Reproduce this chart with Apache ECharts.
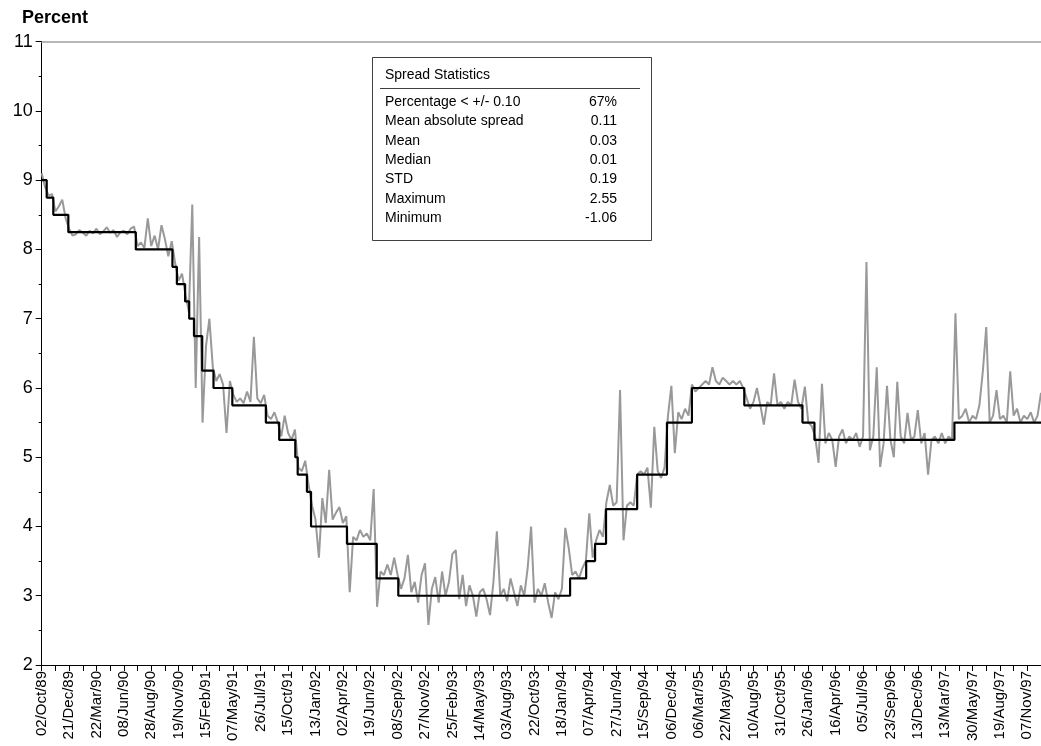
<!DOCTYPE html>
<html>
<head>
<meta charset="utf-8">
<script src="https://cdn.jsdelivr.net/npm/echarts@6/dist/echarts.min.js"></script>
<style>html,body{margin:0;padding:0;background:#fff}#c{width:1041px;height:746px}</style>
</head>
<body>
<div id="c"></div>
<script>
// X tick labels (one every PTS_PER_LABEL observations)
const tickLabels = ['02/Oct/89','21/Dec/89','22/Mar/90','08/Jun/90','28/Aug/90','19/Nov/90','15/Feb/91','07/May/91','26/Jul/91','15/Oct/91','13/Jan/92','02/Apr/92','19/Jun/92','08/Sep/92','27/Nov/92','25/Feb/93','14/May/93','03/Aug/93','22/Oct/93','18/Jan/94','07/Apr/94','27/Jun/94','15/Sep/94','06/Dec/94','06/Mar/95','22/May/95','10/Aug/95','31/Oct/95','26/Jan/96','16/Apr/96','05/Jul/96','23/Sep/96','13/Dec/96','13/Mar/97','30/May/97','19/Aug/97','07/Nov/97'];
const PTS_PER_LABEL = 8;
const AXIS_END = 292;

// Effective (market) rate, sampled observations
const effectiveRate = [
9.1,8.9,8.78,8.8,8.55,8.62,8.72,8.45,8.3,8.2,
8.22,8.28,8.24,8.2,8.27,8.23,8.3,8.22,8.26,8.32,
8.24,8.28,8.18,8.25,8.27,8.22,8.3,8.33,8.05,8.1,
8.02,8.45,8.05,8.2,8.0,8.35,8.15,7.9,8.12,7.8,
7.55,7.65,7.35,7.1,8.65,6.0,8.18,5.5,6.6,7.0,
6.3,6.1,6.2,6.05,5.35,6.1,5.9,5.8,5.85,5.78,
5.95,5.8,6.74,5.85,5.78,5.9,5.6,5.55,5.65,5.5,
5.3,5.6,5.35,5.25,5.4,4.85,4.8,4.95,4.6,4.3,
4.1,3.55,4.41,4.05,4.82,4.1,4.2,4.28,4.05,4.15,
3.05,3.85,3.8,3.95,3.85,3.9,3.8,4.54,2.84,3.35,
3.3,3.45,3.3,3.55,3.3,3.1,3.25,3.59,3.05,3.2,
2.9,3.3,3.47,2.58,3.1,3.27,2.9,3.35,3.0,3.2,
3.6,3.66,2.95,3.3,2.85,3.15,3.0,2.7,3.05,3.1,
2.95,2.72,3.2,3.93,3.0,3.1,2.92,3.25,3.05,2.85,
3.15,3.0,3.4,4.0,2.9,3.1,3.0,3.18,2.9,2.68,
3.05,2.95,3.1,3.98,3.69,3.3,3.35,3.25,3.4,3.5,
4.19,3.55,3.8,3.95,3.85,4.35,4.6,4.3,4.35,5.97,
3.8,4.3,4.35,4.3,4.75,4.8,4.75,4.85,4.27,5.44,
4.8,4.7,4.85,5.6,6.03,5.06,5.65,5.55,5.7,5.6,
6.05,5.95,6.0,6.05,6.1,6.05,6.3,6.1,6.05,6.15,
6.1,6.05,6.1,6.05,6.1,6.0,5.85,5.7,5.8,6.0,
5.75,5.47,5.8,5.75,6.21,5.75,5.8,5.7,5.8,5.75,
6.12,5.8,5.7,6.02,5.5,5.45,5.3,4.92,6.06,5.2,
5.35,5.25,4.86,5.3,5.4,5.2,5.3,5.25,5.35,5.15,
5.3,7.82,5.1,5.3,6.3,4.86,5.2,6.03,5.25,5.0,
6.09,5.3,5.2,5.64,5.25,5.3,5.68,5.2,5.35,4.75,
5.25,5.3,5.2,5.35,5.2,5.3,5.25,7.08,5.55,5.6,
5.7,5.5,5.6,5.55,5.75,6.24,6.88,5.5,5.6,5.97,
5.55,5.6,5.5,6.24,5.6,5.7,5.5,5.6,5.55,5.65,
5.5,5.6,5.93
];

// Target rate: observation index where each level starts, and level
const targetStartIdx = [0,1.46,3.39,7.78,27.5,38.2,39.5,41.9,43.1,44.5,46.9,50.2,55.7,65.5,69.4,74.1,74.8,77.5,78.7,89.2,97.9,104.2,154.4,159.1,161.7,164.9,174.0,182.7,190.0,205.3,222.3,225.8,266.7,292];
const targetRate = [9,8.75,8.5,8.25,8,7.75,7.5,7.25,7,6.75,6.25,6,5.75,5.5,5.25,5,4.75,4.5,4,3.75,3.25,3,3.25,3.5,3.75,4.25,4.75,5.5,6,5.75,5.5,5.25,5.5,5.5];

// Spread statistics table
const statTitle = 'Spread Statistics';
const statLabels = ['Percentage < +/- 0.10','Mean absolute spread','Mean','Median','STD','Maximum','Minimum'];
const statValues = ['67%','0.11','0.03','0.01','0.19','2.55','-1.06'];

const FONT = '"Liberation Sans", Arial, Helvetica, sans-serif';
const chart = echarts.init(document.getElementById('c'), null, {renderer: 'canvas'});

const graphics = [
  {type:'text', left:22, top:9, style:{text:'Percent', font:'bold 18px ' + FONT, fill:'#000'}},
  {type:'rect', shape:{x:372.5, y:57.5, width:279, height:183}, style:{fill:'#fff', stroke:'#404040', lineWidth:1}, z:100},
  {type:'text', x:385, y:75, style:{text:statTitle, font:'14px ' + FONT, fill:'#000', verticalAlign:'middle'}, z:101},
  {type:'line', shape:{x1:380, y1:88.5, x2:640, y2:88.5}, style:{stroke:'#404040', lineWidth:1}, z:101}
];
statLabels.forEach((lab, i) => {
  const y = 102 + i * 19.4;
  graphics.push({type:'text', x:385, y:y, style:{text:lab, font:'14px ' + FONT, fill:'#000', verticalAlign:'middle'}, z:101});
  graphics.push({type:'text', x:617, y:y, style:{text:statValues[i], font:'14px ' + FONT, fill:'#000', align:'right', verticalAlign:'middle'}, z:101});
});

chart.setOption({
  animation: false,
  backgroundColor: '#fff',
  textStyle: {fontFamily: FONT},
  grid: {left: 41.7, top: 41.7, right: 0, bottom: 81, containLabel: false},
  xAxis: [{
    type: 'value', min: 0, max: AXIS_END, interval: PTS_PER_LABEL / 2,
    axisLine: {show: true, onZero: false, lineStyle: {color: '#000', width: 1}},
    axisTick: {show: true, length: 6, lineStyle: {color: '#000'}},
    axisLabel: {
      rotate: 90, margin: 6, fontSize: 15, color: '#000', fontFamily: FONT,
      showMinLabel: true, showMaxLabel: true, interval: 0,
      formatter: v => (Math.abs(v % PTS_PER_LABEL) < 1e-6) ? (tickLabels[Math.round(v / PTS_PER_LABEL)] || '') : ''
    },
    splitLine: {show: false}
  }, {
    type: 'value', position: 'top', min: 0, max: AXIS_END,
    axisLine: {show: true, lineStyle: {color: '#a0a0a0', width: 1.5}},
    axisTick: {show: false}, axisLabel: {show: false}, splitLine: {show: false}
  }],
  yAxis: {
    type: 'value', min: 2, max: 11, interval: 1,
    axisLine: {show: true, lineStyle: {color: '#000', width: 1}},
    axisTick: {show: true, length: 6, lineStyle: {color: '#000'}},
    minorTick: {show: true, splitNumber: 2, length: 3, lineStyle: {color: '#000'}},
    axisLabel: {fontSize: 18, color: '#000', margin: 9, fontFamily: FONT},
    splitLine: {show: false}
  },
  series: [{
    type: 'line', name: 'Effective', xAxisIndex: 0,
    data: effectiveRate.map((v, i) => [i, v]),
    showSymbol: false, symbol: 'none',
    lineStyle: {color: '#999999', width: 2},
    z: 2
  }, {
    type: 'line', name: 'Target', xAxisIndex: 0, step: 'end',
    data: targetStartIdx.map((x, i) => [x, targetRate[i]]),
    showSymbol: false, symbol: 'none',
    lineStyle: {color: '#000', width: 2.2},
    z: 3
  }],
  graphic: graphics
});
</script>
</body>
</html>
